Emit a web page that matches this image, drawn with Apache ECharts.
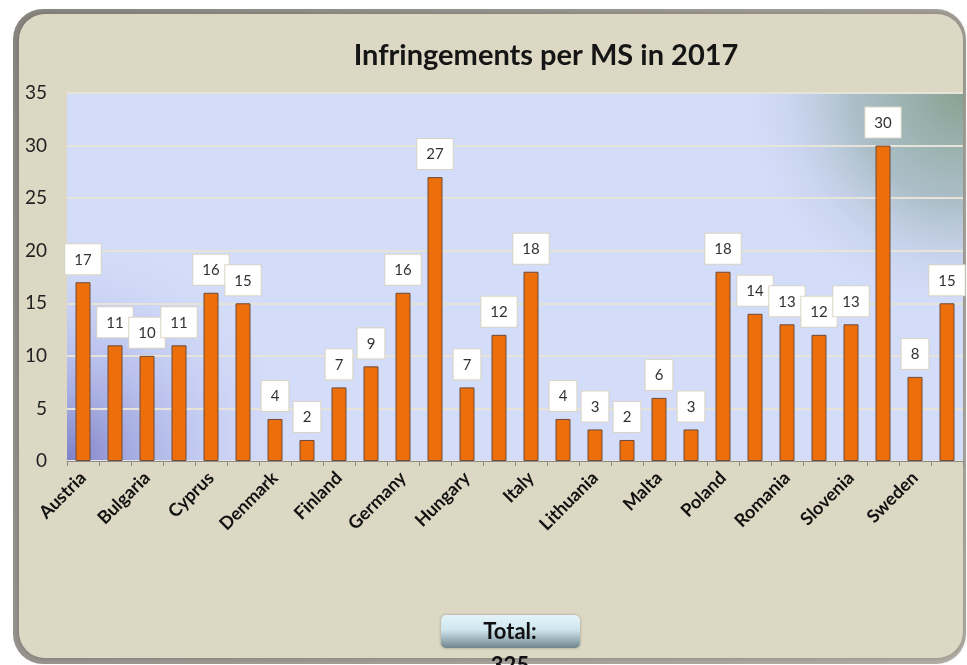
<!DOCTYPE html>
<html>
<head>
<meta charset="utf-8">
<script src="https://cdn.jsdelivr.net/npm/echarts@6/dist/echarts.min.js"></script>
<style>
html,body{margin:0;padding:0;background:#ffffff;}
#chart{width:967px;height:665px;}
</style>
</head>
<body>
<div id="chart"></div>
<script>
const countries = ["Austria","Belgium","Bulgaria","Croatia","Cyprus","Czech Republic","Denmark","Estonia","Finland","France","Germany","Greece","Hungary","Ireland","Italy","Latvia","Lithuania","Luxembourg","Malta","Netherlands","Poland","Portugal","Romania","Slovakia","Slovenia","Spain","Sweden","United Kingdom"];
const infringements = [17,11,10,11,16,15,4,2,7,9,16,27,7,12,18,4,3,2,6,3,18,14,13,12,13,30,8,15];
const yTicks = [0,5,10,15,20,25,30,35];
const titleText = "Infringements per MS in 2017";
const totalLabel = "Total:";
const totalValue = 325;

const G = {left:67, top:93, right:4, bottom:204};
const plotW = 967 - G.left - G.right, plotH = 665 - G.top - G.bottom;

const chart = echarts.init(document.getElementById('chart'));
const font = 'Lato, "Open Sans", sans-serif';

chart.setOption({
  animation:false,
  backgroundColor:'#ffffff',
  title:{text:titleText,left:541,top:36,textAlign:'center',
    textStyle:{fontFamily:font,fontWeight:'bold',fontSize:29,color:'#151515'}},
  graphic:[
    {type:'rect',z:-30,shape:{x:13,y:9,width:953,height:655,r:30},
     style:{fill:new echarts.graphic.LinearGradient(0,0,1,1,[{offset:0,color:'#8a8682'},{offset:1,color:'#b4b1a8'}])}},
    {type:'rect',z:-29,shape:{x:19,y:14,width:944,height:644,r:26},
     style:{fill:'#dcd8c3',shadowBlur:6,shadowColor:'rgba(60,55,45,0.35)'}},
    {type:'rect',z:-20,shape:{x:G.left,y:G.top,width:plotW,height:plotH},
     style:{fill:'#d3dcf8'}},
    {type:'rect',z:-19,shape:{x:G.left,y:G.top,width:plotW,height:plotH},
     style:{fill:new echarts.graphic.RadialGradient(0,1,0.62,[{offset:0,color:'rgba(125,128,198,1)'},{offset:0.5,color:'rgba(165,172,228,0.5)'},{offset:1,color:'rgba(200,210,245,0)'}])}},
    {type:'rect',z:-19,shape:{x:G.left,y:G.top,width:plotW,height:plotH},
     style:{fill:new echarts.graphic.RadialGradient(1,0,0.6,[{offset:0,color:'rgba(135,162,145,1)'},{offset:0.5,color:'rgba(155,178,180,0.7)'},{offset:1,color:'rgba(200,210,240,0)'}])}},
    {type:'rect',z:-10,shape:{x:441,y:615,width:139,height:33,r:5},
     style:{fill:new echarts.graphic.LinearGradient(0,0,0,1,[{offset:0,color:'#e4f3f9'},{offset:0.45,color:'#cfe6ef'},{offset:1,color:'#6f858d'}]),
            shadowBlur:3,shadowColor:'rgba(0,0,0,0.3)'}},
    {type:'text',z:10,style:{x:510,y:632,text:totalLabel,textAlign:'center',textVerticalAlign:'middle',
      fontFamily:font,fontWeight:'bold',fontSize:22,fill:'#111'}},
    {type:'text',z:10,style:{x:510,y:655,text:String(totalValue),textAlign:'center',textVerticalAlign:'top',
      fontFamily:font,fontWeight:'bold',fontSize:22,fill:'#111'}}
  ],
  grid:{left:G.left,top:G.top,right:G.right,bottom:G.bottom,containLabel:false},
  xAxis:{type:'category',data:countries,boundaryGap:true,
    axisLine:{show:true,lineStyle:{color:'#8c8c8c',width:1}},
    axisTick:{show:true,interval:0,length:5,lineStyle:{color:'#8c8c8c'}},
    axisLabel:{interval:1,rotate:45,margin:14,fontFamily:font,fontWeight:'bold',fontSize:18,color:'#111'},
    splitLine:{show:false}},
  yAxis:{type:'value',min:yTicks[0],max:yTicks[yTicks.length-1],interval:5,
    axisLine:{show:false},axisTick:{show:false},
    axisLabel:{margin:20,fontFamily:font,fontSize:19,color:'#222'},
    splitLine:{show:true,lineStyle:{color:'#e6e4d8',width:2}}},
  series:[{type:'bar',data:infringements,barWidth:15,
    itemStyle:{color:'#ec6f0b',borderColor:'#6e4a3a',borderWidth:1},
    label:{show:true,position:'top',distance:8,fontFamily:font,fontSize:15,color:'#333',
      backgroundColor:'#ffffff',borderColor:'#d9d4c4',borderWidth:1,padding:[8,9,7,9]}}]
});
</script>
</body>
</html>
